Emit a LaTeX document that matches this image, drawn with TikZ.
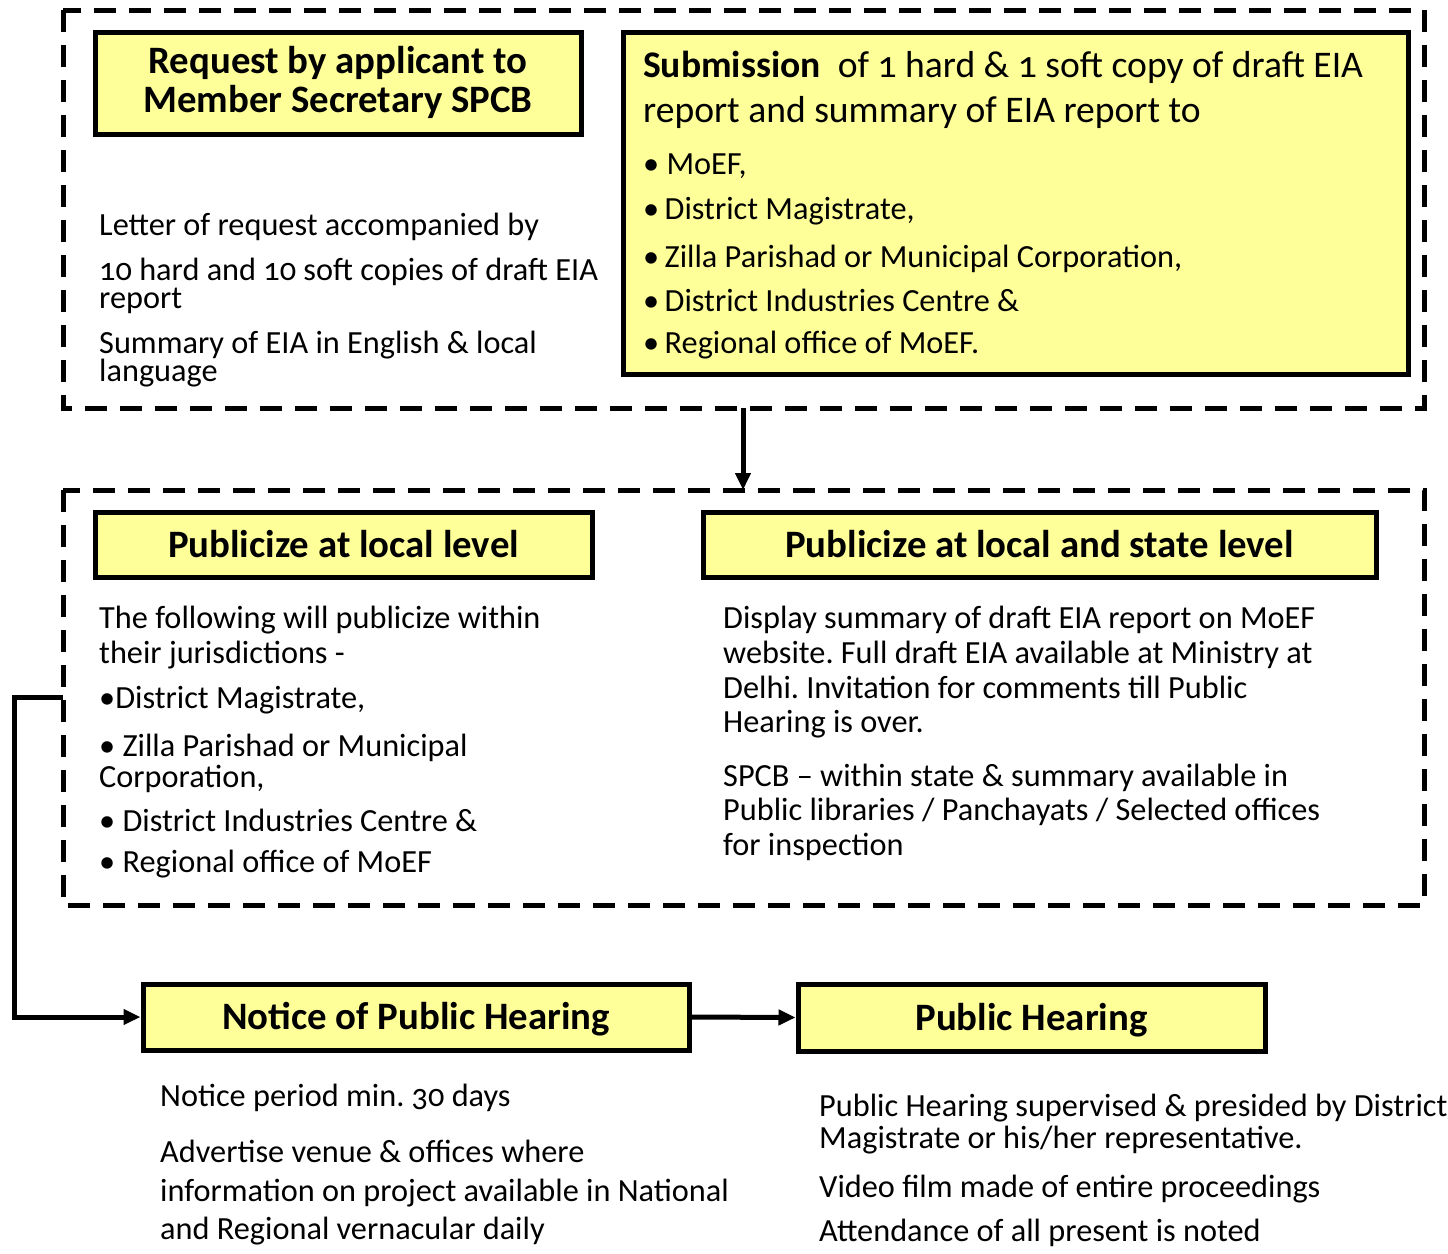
\documentclass[tikz,border=0pt]{standalone}
\usepackage{fontspec}
\setmainfont[Numbers=OldStyle]{Carlito}
\usetikzlibrary{arrows.meta}
\definecolor{boxyellow}{HTML}{FFFF99}
\frenchspacing
\tikzset{
  dashbox/.style={draw=black, line width=5pt, dash pattern=on 22pt off 13pt},
  ybox/.style={draw=black, line width=5pt, fill=boxyellow},
  ln/.style={anchor=base west, inner sep=0pt, font=\fontsize{32.3}{34}\selectfont},
  tightln/.style={anchor=base west, inner sep=0pt, align=left, font=\fontsize{32.3}{28.5}\selectfont},
  bigln/.style={anchor=base west, inner sep=0pt, font=\fontsize{37.6}{40}\selectfont},
  hd/.style={anchor=base, inner sep=0pt, font=\fontsize{38.8}{42}\selectfont\bfseries},
  conn/.style={line width=5pt, -{Triangle[length=17pt,width=15pt]}}
}
\begin{document}
\begin{tikzpicture}[x=1pt,y=-1pt]
\useasboundingbox (0,0) rectangle (1448,1253);
% dashed groups
\draw[dashbox] (63,10) rectangle (1424,408);
\draw[dashbox] (63,490) rectangle (1424,905);
\coordinate (g1b) at (743,408);
\coordinate (g2t) at (743,490);
% boxes
\node[ybox, minimum width=486pt, minimum height=102pt] (req) at (338,83) {};
\node[hd] (reqA) at (338,73) {Request by applicant to};
\node[hd] (reqB) at (338,112) {Member Secretary SPCB};

\node[ybox, minimum width=785pt, minimum height=342pt] (sub) at (1015.5,203) {};
\node[bigln] (s1) at (643,77) {\textbf{Submission}\ \ of 1 hard \& 1 soft copy of draft EIA};
\node[bigln] (s2) at (643,122) {report and summary of EIA report to};
\node[ln] (s3) at (643,174) {\textbullet\ MoEF,};
\node[ln] (s4) at (643,219) {\textbullet\,District Magistrate,};
\node[ln] (s5) at (643,267) {\textbullet\,Zilla Parishad or Municipal Corporation,};
\node[ln] (s6) at (643,311) {\textbullet\,District Industries Centre \&};
\node[ln] (s7) at (643,353) {\textbullet\,Regional office of MoEF.};

\node[ln] (l1) at (99,235) {Letter of request accompanied by};
\node[tightln] (l2) at (99,308.5) {10 hard and 10 soft copies of draft EIA\\report};
\node[tightln] (l4) at (99,381.5) {Summary of EIA in English \& local\\language};

\node[ybox, minimum width=497pt, minimum height=65pt] (loc) at (343.5,544.5) {};
\node[hd] (locT) at (343.5,557) {Publicize at local level};
\node[ybox, minimum width=673pt, minimum height=65pt] (st) at (1039.5,544.5) {};
\node[hd] (stT) at (1039.5,557) {Publicize at local and state level};

\node[ln] (p1) at (99,628) {The following will publicize within};
\node[ln] (p2) at (99,663) {their jurisdictions -};
\node[ln] (p3) at (99,708) {\textbullet District Magistrate,};
\node[ln] (p4) at (99,756) {\textbullet\ Zilla Parishad or Municipal};
\node[ln] (p5) at (99,787) {Corporation,};
\node[ln] (p6) at (99,831) {\textbullet\ District Industries Centre \&};
\node[ln] (p7) at (99,872) {\textbullet\ Regional office of MoEF};

\node[ln] (q1) at (723,628) {Display summary of draft EIA report on MoEF};
\node[ln] (q2) at (723,663) {website. Full draft EIA available at Ministry at};
\node[ln] (q3) at (723,698) {Delhi. Invitation for comments till Public};
\node[ln] (q4) at (723,732) {Hearing is over.};
\node[ln] (q5) at (723,786) {SPCB -- within state \& summary available in};
\node[ln] (q6) at (723,820) {Public libraries / Panchayats / Selected offices};
\node[ln] (q7) at (723,855) {for inspection};

\node[ybox, minimum width=546pt, minimum height=66pt] (not) at (416,1017) {};
\node[hd] (notT) at (416,1029) {Notice of Public Hearing};
\node[ybox, minimum width=467pt, minimum height=67pt] (ph) at (1031.5,1017.5) {};
\node[hd] (phT) at (1031.5,1030) {Public Hearing};

\node[ln] (n1) at (160,1106) {Notice period min. 30 days};
\node[ln] (n2) at (160,1162) {Advertise venue \& offices where};
\node[ln] (n3) at (160,1201) {information on project available in National};
\node[ln] (n4) at (160,1239) {and Regional vernacular daily};

\node[ln] (h1) at (819,1116) {Public Hearing supervised \& presided by District};
\node[ln] (h2) at (819,1148) {Magistrate or his/her representative.};
\node[ln] (h3) at (819,1197) {Video film made of entire proceedings};
\node[ln] (h4) at (819,1241) {Attendance of all present is noted};

% connectors
\draw[conn] (g1b) -- (g2t);
\coordinate (g2l) at (63,697);
\draw[conn] (g2l) -- (14,697) |- (not.west);
\draw[conn] (not.east) -- (ph.west);
\end{tikzpicture}
\end{document}
